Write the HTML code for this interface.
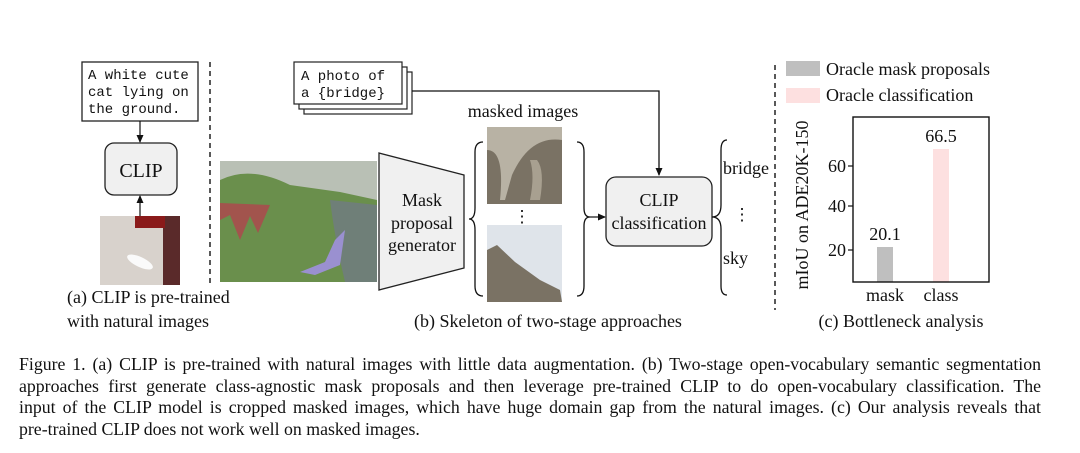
<!DOCTYPE html>
<html><head><meta charset="utf-8"><style>
body{margin:0;width:1080px;height:453px;background:#fff;overflow:hidden;position:relative}
svg{position:absolute;left:0;top:0}
.cap{position:absolute;left:19px;top:354px;width:1022px;font:17.8px/21.7px "Liberation Serif",serif;color:#111}
.cap div{text-align:justify;text-align-last:justify;white-space:nowrap}
.cap div.l{text-align-last:left}
</style></head><body>
<svg width="1080" height="453" font-family="Liberation Serif, serif" fill="#111">
<defs><marker id="a" markerWidth="8" markerHeight="8" refX="7" refY="4" orient="auto" markerUnits="userSpaceOnUse"><path d="M0,0.5 L8,4 L0,7.5z" fill="#111"/></marker></defs>
<rect x="82" y="62" width="116" height="59" fill="#fff" stroke="#222" stroke-width="1.3"/>
<g font-family="Liberation Mono, monospace" font-size="14">
<text x="88" y="79">A white cute</text><text x="88" y="96">cat lying on</text><text x="88" y="113">the ground.</text></g>
<line x1="140" y1="121" x2="140" y2="142" stroke="#111" stroke-width="1.2" marker-end="url(#a)"/>
<rect x="105" y="143" width="72" height="52" rx="9" fill="#f0f0f0" stroke="#222" stroke-width="1.3"/>
<text x="141" y="177" font-size="20" text-anchor="middle">CLIP</text>
<line x1="140" y1="216" x2="140" y2="196" stroke="#111" stroke-width="1.2" marker-end="url(#a)"/>
<rect x="100" y="216" width="80" height="69" fill="#d8d2cc"/>
<rect x="163" y="216" width="17" height="69" fill="#5a2a2a"/>
<rect x="135" y="216" width="30" height="12" fill="#8a1a1a"/>
<ellipse cx="140" cy="262" rx="14" ry="5" fill="#fafafa" transform="rotate(25 140 262)"/>
<text x="67" y="303" font-size="18">(a) CLIP is pre-trained</text>
<text x="67" y="327" font-size="18">with natural images</text>
<line x1="210" y1="62" x2="210" y2="283" stroke="#222" stroke-width="1.5" stroke-dasharray="5,4"/>
<rect x="304" y="72" width="108" height="42" fill="#fff" stroke="#222" stroke-width="1.2"/>
<rect x="299" y="67" width="108" height="42" fill="#fff" stroke="#222" stroke-width="1.2"/>
<rect x="294" y="62" width="108" height="42" fill="#fff" stroke="#222" stroke-width="1.2"/>
<g font-family="Liberation Mono, monospace" font-size="14"><text x="301" y="80">A photo of</text><text x="301" y="97">a {bridge}</text></g>
<polyline points="412,91 659,91 659,175" fill="none" stroke="#111" stroke-width="1.3" marker-end="url(#a)"/>
<rect x="220" y="161" width="157" height="121" fill="#b9c0b5"/>
<path d="M220,180 Q250,165 290,185 L340,192 L377,200 L377,282 L220,282z" fill="#6a8f4c"/>
<path d="M330,200 L377,205 L377,282 L345,282 Q335,240 330,200z" fill="#6f7f78"/>
<path d="M220,203 L270,205 L258,233 L250,216 L240,240 L230,215 L220,220z" fill="#a84e4e" opacity=".9"/>
<path d="M325,262 L335,240 L345,230 L340,265 L315,275 L300,272z" fill="#9a90d0"/>
<polygon points="379,153 464,175 464,268 379,290" fill="#f0f0f0" stroke="#222" stroke-width="1.3"/>
<g font-size="18" text-anchor="middle"><text x="422" y="206">Mask</text><text x="422" y="229">proposal</text><text x="422" y="251">generator</text></g>
<text x="523" y="117" font-size="18" text-anchor="middle">masked images</text>
<path d="M483,142 Q475,142 475,152 L475,208 Q475,219 469,219 Q475,219 475,230 L475,286 Q475,296 483,296" fill="none" stroke="#111" stroke-width="1.3"/>
<rect x="487" y="127" width="75" height="77" fill="#7a7264"/>
<path d="M487,127 L562,127 L562,140 Q530,135 512,175 L505,200 L500,200 Q505,150 487,150z" fill="#b8b2a4"/>
<path d="M537,160 Q545,170 540,200 L530,200 Q535,175 530,160z" fill="#a8a090"/>
<text x="522" y="222" font-size="17" text-anchor="middle">⋮</text>
<rect x="487" y="225" width="75" height="77" fill="#dfe4ea"/>
<path d="M487,250 L497,245 L515,262 L540,280 L560,290 L562,302 L487,302z" fill="#7a7264"/>
<path d="M577,142 Q584,142 584,152 L584,208 Q584,217 590,217 Q584,217 584,226 L584,286 Q584,296 577,296" fill="none" stroke="#111" stroke-width="1.3"/>
<line x1="590" y1="217" x2="605" y2="217" stroke="#111" stroke-width="1.2" marker-end="url(#a)"/>
<rect x="606" y="177" width="106" height="69" rx="10" fill="#f0f0f0" stroke="#222" stroke-width="1.3"/>
<g font-size="18" text-anchor="middle"><text x="659" y="206">CLIP</text><text x="659" y="229">classification</text></g>
<path d="M727,140 Q721,140 721,150 L721,205 Q721,217 712,217 Q721,217 721,229 L721,286 Q721,295 727,295" fill="none" stroke="#111" stroke-width="1.3"/>
<text x="723" y="174" font-size="18">bridge</text>
<text x="742" y="220" font-size="17" text-anchor="middle">⋮</text>
<text x="723" y="264" font-size="18">sky</text>
<text x="548" y="327" font-size="18" text-anchor="middle">(b) Skeleton of two-stage approaches</text>
<line x1="775" y1="65" x2="775" y2="310" stroke="#222" stroke-width="1.5" stroke-dasharray="5,4"/>
<rect x="786" y="61" width="34" height="15" fill="#bfbfbf"/>
<text x="826" y="75" font-size="18">Oracle mask proposals</text>
<rect x="786" y="88" width="34" height="15" fill="#fde0e0"/>
<text x="826" y="101" font-size="18">Oracle classification</text>
<rect x="877" y="247" width="16" height="35" fill="#bfbfbf"/>
<rect x="933" y="149" width="16" height="133" fill="#fde0e0"/>
<rect x="853" y="117" width="136" height="165" fill="none" stroke="#111" stroke-width="1.4"/>
<g stroke="#111" stroke-width="1.2"><line x1="848" y1="166" x2="853" y2="166"/><line x1="848" y1="206" x2="853" y2="206"/><line x1="848" y1="250" x2="853" y2="250"/></g>
<g font-size="18" text-anchor="end"><text x="846" y="172">60</text><text x="846" y="212">40</text><text x="846" y="256">20</text></g>
<g font-size="18" text-anchor="middle"><text x="885" y="240">20.1</text><text x="941" y="142">66.5</text><text x="885" y="301">mask</text><text x="941" y="301">class</text></g>
<text transform="translate(808,205) rotate(-90)" font-size="18" text-anchor="middle">mIoU on ADE20K-150</text>
<text x="901" y="327" font-size="18" text-anchor="middle">(c) Bottleneck analysis</text>
</svg>
<div class="cap">
<div>Figure 1. (a) CLIP is pre-trained with natural images with little data augmentation. (b) Two-stage open-vocabulary semantic segmentation</div>
<div>approaches first generate class-agnostic mask proposals and then leverage pre-trained CLIP to do open-vocabulary classification. The</div>
<div>input of the CLIP model is cropped masked images, which have huge domain gap from the natural images. (c) Our analysis reveals that</div>
<div class="l">pre-trained CLIP does not work well on masked images.</div>
</div>
</body></html>
